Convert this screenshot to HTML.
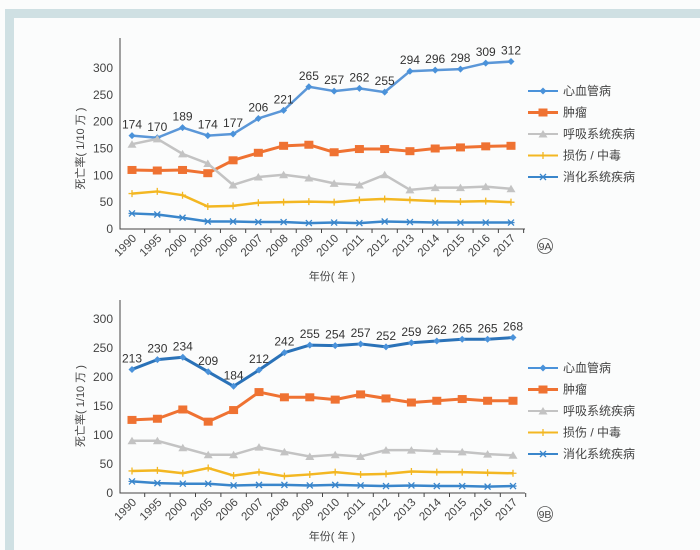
<!DOCTYPE html>
<html><head><meta charset="utf-8"><style>
body{margin:0;background:#fff;}
svg{display:block;font-family:"Liberation Sans","Noto Sans CJK SC",sans-serif;}
</style></head><body>
<svg id="s" width="700" height="550">
<rect x="0" y="0" width="700" height="550" fill="#fbfcfc"/>
<path d="M5 9 H700 V18 H14 V550 H5 Z" fill="#cfe0e3"/>
</svg>
<script>
const years=["1990","1995","2000","2005","2006","2007","2008","2009","2010","2011","2012","2013","2014","2015","2016","2017"];
const yTicks=[0,50,100,150,200,250,300];
const seriesNames=["心血管病","肿瘤","呼吸系统疾病","损伤 / 中毒","消化系统疾病"];
const aCvd=[174,170,189,174,177,206,221,265,257,262,255,294,296,298,309,312];
const aTumor=[110,109,110,104,128,142,155,157,143,149,149,145,150,152,154,155];
const aResp=[158,168,140,122,82,97,101,95,85,82,101,73,77,77,79,75];
const aInjury=[66,70,63,42,43,49,50,51,50,54,56,54,52,51,52,50];
const aDigest=[29,27,21,14,14,13,13,11,12,11,14,13,12,12,12,12];
const bCvd=[213,230,234,209,184,212,242,255,254,257,252,259,262,265,265,268];
const bTumor=[126,128,144,123,143,174,165,165,161,170,163,156,159,162,159,159];
const bResp=[90,90,78,66,66,79,71,63,66,63,74,74,72,71,67,65];
const bInjury=[38,39,34,43,30,36,29,32,36,32,33,37,36,36,35,34];
const bDigest=[20,17,16,16,13,14,14,13,14,13,12,13,12,12,11,12];

const svg=document.getElementById('s');
const NS='http://www.w3.org/2000/svg';
function mk(tag,at,parent){const e=document.createElementNS(NS,tag);for(const k in at)e.setAttribute(k,at[k]);(parent||svg).appendChild(e);return e;}
function marker(g,type,x,y,c){
  if(type==='d')return mk('path',{d:`M${x} ${y-3.5}L${x+3.5} ${y}L${x} ${y+3.5}L${x-3.5} ${y}Z`,fill:c},g);
  if(type==='s')return mk('rect',{x:x-4.5,y:y-4,width:9,height:8,fill:c},g);
  if(type==='t')return mk('path',{d:`M${x} ${y-4}L${x+4.5} ${y+3.5}L${x-4.5} ${y+3.5}Z`,fill:c},g);
  if(type==='p')return mk('path',{d:`M${x-3.5} ${y}H${x+3.5}M${x} ${y-3.5}V${y+3.5}`,stroke:c,'stroke-width':1.3},g);
  return mk('path',{d:`M${x-3} ${y-3}L${x+3} ${y+3}M${x+3} ${y-3}L${x-3} ${y+3}M${x-3.5} ${y}H${x+3.5}`,stroke:c,'stroke-width':1.3},g);
}
function chart(cfg){
  const {x0,x1,axR,yBase,y300,yTop,data,cvdColor,cvdW,labelVals,badge,legY,legStep,prefix,titleY}=cfg;
  const xs=i=>x0+i*(x1-x0)/(years.length-1);
  const ys=v=>yBase-(v/300)*(yBase-y300);
  const step=(x1-x0)/(years.length-1);
  const g=mk('g',{});
  
  
  mk('path',{d:`M120 ${yTop}V${yBase}H${axR}`,stroke:'#444',fill:'none','stroke-width':1},g);
  yTicks.forEach(t=>{
    const tx=mk('text',{x:113,y:ys(t)+4,'text-anchor':'end','font-size':12,fill:'#444'},g);
    tx.textContent=t;
    
    
  });
  years.forEach((yr,i)=>{
    const xt=xs(i)+step/2;
    mk('line',{x1:xt,y1:yBase,x2:xt,y2:yBase+4,stroke:'#444'},g);
    const tx=mk('text',{x:xs(i)+5,y:yBase+10,'text-anchor':'end','font-size':11.5,fill:'#444',transform:`rotate(-45 ${xs(i)+5} ${yBase+10})`},g);
    tx.textContent=yr;
    
    
  });
  const yt=mk('text',{x:0,y:0,'text-anchor':'middle','font-size':11,fill:'#444',transform:`translate(84 ${(yBase+y300)/2}) rotate(-90)`},g);
  yt.textContent='死亡率( 1/10 万 )';
  
  
  const xt=mk('text',{x:332,y:titleY,'text-anchor':'middle','font-size':11,fill:'#444'},g);
  xt.textContent='年份( 年 )';
  
  
  const colors=[cvdColor,'#ef7232','#c3c3c3','#f3b722','#3a86cb'];
  const mtypes=['d','s','t','p','x'];
  const widths=[cvdW,3,2.5,2.5,2.5];
  data.forEach((arr,si)=>{
    const pts=arr.map((v,i)=>`${xs(i)},${ys(v)}`).join(' ');
    const pl=mk('polyline',{points:pts,fill:'none',stroke:colors[si],'stroke-width':widths[si],'stroke-linejoin':'round'},g);
    
    
    arr.forEach((v,i)=>{
      const m=marker(g,mtypes[si],xs(i),ys(v),si===0?'#4a92da':colors[si]);
      
      
    });
  });
  labelVals.forEach((v,i)=>{
    const t=mk('text',{x:xs(i),y:ys(v)-7,'text-anchor':'middle','font-size':12,fill:'#333'},g);
    t.textContent=v;
    
    
  });
  seriesNames.forEach((n,i)=>{
    const y=legY+i*legStep;
    const lg=mk('g',{},g);
    
    
    mk('line',{x1:528,y1:y,x2:558,y2:y,stroke:i===0?'#4a92da':colors[i],'stroke-width':i===1?3:2},lg);
    marker(lg,mtypes[i],543,y,i===0?'#4a92da':colors[i]);
    const t=mk('text',{x:563,y:y+4,'font-size':12,fill:'#444'},lg);
    t.textContent=n;
  });
  const bg=mk('g',{},g);
  
  
  mk('circle',{cx:545,cy:badge,r:7.5,fill:'none',stroke:'#555','stroke-width':0.8},bg);
  const bt=mk('text',{x:545,y:badge+4,'text-anchor':'middle','font-size':10.5,fill:'#444'},bg);
  bt.textContent=prefix==='a'?'9A':'9B';
}
chart({prefix:'a',x0:132,x1:511,axR:525,yBase:229,y300:68,yTop:38,data:[aCvd,aTumor,aResp,aInjury,aDigest],cvdColor:'#5b97d8',cvdW:2.5,labelVals:aCvd,badge:246,legY:91,legStep:21.5,titleY:280});
chart({prefix:'b',x0:132,x1:513,axR:525,yBase:493,y300:319,yTop:300,data:[bCvd,bTumor,bResp,bInjury,bDigest],cvdColor:'#2a72b8',cvdW:3,labelVals:bCvd,badge:514,legY:368,legStep:21.5,titleY:540});
</script>
</body></html>
